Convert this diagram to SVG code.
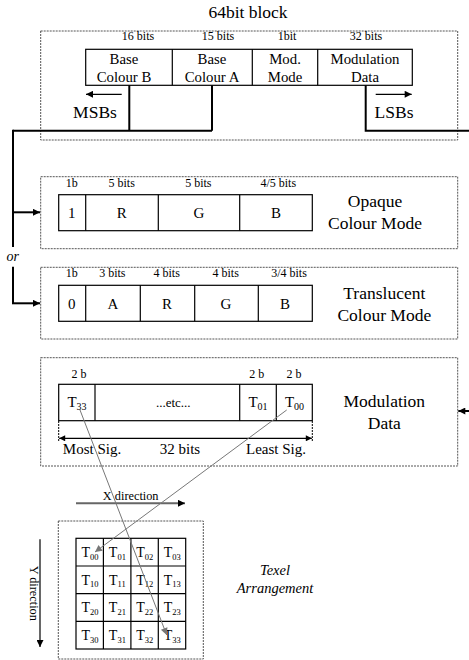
<svg xmlns="http://www.w3.org/2000/svg" width="469" height="660" viewBox="0 0 469 660" font-family="Liberation Serif, DejaVu Serif, serif">
<style>
text{font-family:'Liberation Serif','DejaVu Serif',serif;fill:#000;text-anchor:middle}
.dash{fill:none;stroke:#555;stroke-width:1;stroke-dasharray:2 1}
.fld{fill:#fff;stroke:#000;stroke-width:1.2}
.div{stroke:#000;stroke-width:1.2}
.thick{fill:none;stroke:#000;stroke-width:2}
.bits{font-size:12px}
.f15{font-size:14.8px}
.big{font-size:17.5px}
.let{font-size:15px}
.gray{stroke:#777;stroke-width:1;fill:none}
.it{font-style:italic}
</style>
<defs>
<marker id="ah" viewBox="0 0 10 10" refX="10" refY="5" markerWidth="10" markerHeight="7" markerUnits="userSpaceOnUse" orient="auto">
<path d="M0,0 L10,5 L0,10 Z" fill="#000"/>
</marker>
<marker id="ahs" viewBox="0 0 10 10" refX="10" refY="5" markerWidth="9" markerHeight="6" markerUnits="userSpaceOnUse" orient="auto-start-reverse">
<path d="M0,0 L10,5 L0,10 Z" fill="#000"/>
</marker>
<marker id="ahg" viewBox="0 0 10 10" refX="10" refY="5" markerWidth="10" markerHeight="7" markerUnits="userSpaceOnUse" orient="auto">
<path d="M0,0 L10,5 L0,10 Z" fill="#777"/>
</marker>
</defs>

<text x="248" y="18" class="big">64bit block</text>

<g id="block64">
<rect x="40.7" y="31" width="417" height="109" class="dash"/>
<rect x="85.7" y="49.3" width="326.6" height="36" class="fld"/>
<line x1="172.3" y1="49.3" x2="172.3" y2="85.3" class="div"/>
<line x1="252.3" y1="49.3" x2="252.3" y2="85.3" class="div"/>
<line x1="317.7" y1="49.3" x2="317.7" y2="85.3" class="div"/>
<text x="138" y="40" class="bits">16 bits</text>
<text x="218" y="40" class="bits">15 bits</text>
<text x="287" y="40" class="bits">1bit</text>
<text x="366" y="40" class="bits">32 bits</text>
<text x="124" y="64" class="f15">Base</text>
<text x="124" y="82" class="f15">Colour B</text>
<text x="212" y="64" class="f15">Base</text>
<text x="212" y="82" class="f15">Colour A</text>
<text x="285" y="64" class="f15">Mod.</text>
<text x="285" y="82" class="f15">Mode</text>
<text x="365" y="64" class="f15">Modulation</text>
<text x="365" y="82" class="f15">Data</text>
<line x1="121.7" y1="94.3" x2="86" y2="94.3" stroke="#000" stroke-width="1.2" marker-end="url(#ah)"/>
<text x="95" y="118" class="big">MSBs</text>
<line x1="375.7" y1="94.3" x2="411.7" y2="94.3" stroke="#000" stroke-width="1.2" marker-end="url(#ah)"/>
<text x="394" y="118" class="big">LSBs</text>
</g>

<g id="opaque">
<rect x="40.7" y="176.7" width="417" height="72" class="dash"/>
<rect x="58.7" y="194.7" width="253.6" height="36" class="fld"/>
<line x1="85.7" y1="194.7" x2="85.7" y2="230.7" class="div"/>
<line x1="158.3" y1="194.7" x2="158.3" y2="230.7" class="div"/>
<line x1="239.7" y1="194.7" x2="239.7" y2="230.7" class="div"/>
<text x="71.7" y="187" class="bits">1b</text>
<text x="121.7" y="187" class="bits">5 bits</text>
<text x="198.3" y="187" class="bits">5 bits</text>
<text x="278.3" y="187" class="bits">4/5 bits</text>
<text x="71.7" y="217.5" class="let">1</text>
<text x="121.7" y="217.5" class="let">R</text>
<text x="199" y="217.5" class="let">G</text>
<text x="276" y="217.5" class="let">B</text>
<text x="375" y="207" class="big">Opaque</text>
<text x="375" y="229" class="big">Colour Mode</text>
</g>

<g id="translucent">
<rect x="40.7" y="267.3" width="417" height="71.7" class="dash"/>
<rect x="58.7" y="285.3" width="253.6" height="36" class="fld"/>
<line x1="85.7" y1="285.3" x2="85.7" y2="321.3" class="div"/>
<line x1="140.3" y1="285.3" x2="140.3" y2="321.3" class="div"/>
<line x1="194.7" y1="285.3" x2="194.7" y2="321.3" class="div"/>
<line x1="258.3" y1="285.3" x2="258.3" y2="321.3" class="div"/>
<text x="71.7" y="277" class="bits">1b</text>
<text x="112.3" y="277" class="bits">3 bits</text>
<text x="166.7" y="277" class="bits">4 bits</text>
<text x="225.7" y="277" class="bits">4 bits</text>
<text x="289" y="277" class="bits">3/4 bits</text>
<text x="71.7" y="308.5" class="let">0</text>
<text x="113" y="308.5" class="let">A</text>
<text x="167" y="308.5" class="let">R</text>
<text x="226" y="308.5" class="let">G</text>
<text x="285" y="308.5" class="let">B</text>
<text x="384.3" y="298.5" class="big">Translucent</text>
<text x="384.3" y="320.5" class="big">Colour Mode</text>
</g>

<g id="modulation">
<rect x="40.7" y="357.7" width="417" height="108.3" class="dash"/>
<rect x="58.7" y="384.3" width="253.6" height="36.4" class="fld"/>
<line x1="95" y1="384.3" x2="95" y2="420.7" class="div"/>
<line x1="239.7" y1="384.3" x2="239.7" y2="420.7" class="div"/>
<line x1="276.3" y1="384.3" x2="276.3" y2="420.7" class="div"/>
<text x="79" y="377.5" class="bits">2 b</text>
<text x="256.7" y="377.5" class="bits">2 b</text>
<text x="294" y="377.5" class="bits">2 b</text>
<text x="77" y="407" class="let">T<tspan dy="3" font-size="10">33</tspan></text>
<text x="173.3" y="407" style="font-size:13px">...etc...</text>
<text x="258" y="407" class="let">T<tspan dy="3" font-size="10">01</tspan></text>
<text x="294.5" y="407" class="let">T<tspan dy="3" font-size="10">00</tspan></text>
<line x1="58.7" y1="421" x2="58.7" y2="442" stroke="#000" stroke-width="1" stroke-dasharray="2 1"/>
<line x1="312.3" y1="421" x2="312.3" y2="442" stroke="#000" stroke-width="1" stroke-dasharray="2 1"/>
<line x1="59.2" y1="438.3" x2="311.8" y2="438.3" stroke="#000" stroke-width="1.3" marker-start="url(#ahs)" marker-end="url(#ahs)"/>
<text x="92" y="453.5" class="let">Most Sig.</text>
<text x="180" y="453.5" class="let">32 bits</text>
<text x="276" y="453.5" class="let">Least Sig.</text>
<text x="384.3" y="407" class="big">Modulation</text>
<text x="384.3" y="428.5" class="big">Data</text>
</g>

<g id="texel">
<rect x="58.3" y="521" width="145" height="138" class="dash"/>
<g stroke="#000" stroke-width="1.2" fill="#fff">
<rect x="76" y="538.3" width="109.7" height="110.7"/>
<line x1="103.4" y1="538.3" x2="103.4" y2="649"/>
<line x1="130.9" y1="538.3" x2="130.9" y2="649"/>
<line x1="158.3" y1="538.3" x2="158.3" y2="649"/>
<line x1="76" y1="566" x2="185.7" y2="566"/>
<line x1="76" y1="593.7" x2="185.7" y2="593.7"/>
<line x1="76" y1="621.3" x2="185.7" y2="621.3"/>
</g>
<g style="font-size:14px">
<text x="90" y="557">T<tspan dy="2.5" font-size="8.5">00</tspan></text>
<text x="117.4" y="557">T<tspan dy="2.5" font-size="8.5">01</tspan></text>
<text x="144.8" y="557">T<tspan dy="2.5" font-size="8.5">02</tspan></text>
<text x="172.2" y="557">T<tspan dy="2.5" font-size="8.5">03</tspan></text>
<text x="90" y="584.7">T<tspan dy="2.5" font-size="8.5">10</tspan></text>
<text x="117.4" y="584.7">T<tspan dy="2.5" font-size="8.5">11</tspan></text>
<text x="144.8" y="584.7">T<tspan dy="2.5" font-size="8.5">12</tspan></text>
<text x="172.2" y="584.7">T<tspan dy="2.5" font-size="8.5">13</tspan></text>
<text x="90" y="612.4">T<tspan dy="2.5" font-size="8.5">20</tspan></text>
<text x="117.4" y="612.4">T<tspan dy="2.5" font-size="8.5">21</tspan></text>
<text x="144.8" y="612.4">T<tspan dy="2.5" font-size="8.5">22</tspan></text>
<text x="172.2" y="612.4">T<tspan dy="2.5" font-size="8.5">23</tspan></text>
<text x="90" y="640">T<tspan dy="2.5" font-size="8.5">30</tspan></text>
<text x="117.4" y="640">T<tspan dy="2.5" font-size="8.5">31</tspan></text>
<text x="144.8" y="640">T<tspan dy="2.5" font-size="8.5">32</tspan></text>
<text x="172.2" y="640">T<tspan dy="2.5" font-size="8.5">33</tspan></text>
</g>
<text x="275" y="575" class="it" style="font-size:14.5px">Texel</text>
<text x="275" y="593" class="it" style="font-size:14.5px">Arrangement</text>
<text x="130.7" y="499.5" style="font-size:12.3px">X direction</text>
<line x1="76" y1="503.3" x2="185" y2="503.3" stroke="#666" stroke-width="2" marker-end="url(#ah)"/>
<line x1="40" y1="539.3" x2="40" y2="647" stroke="#000" stroke-width="1.2" marker-end="url(#ah)"/>
<text transform="translate(30,593.3) rotate(90)" style="font-size:12.3px">Y direction</text>
</g>

<g id="connectors">
<path d="M129.3,85.3 V130.7 M212,85.3 V130.7 M13,130.7 H212" class="thick"/>
<path d="M365.7,85.3 V130.7 H469" class="thick"/>
<path d="M13,129.7 V247" class="thick"/>
<path d="M13,266.7 V303.3" class="thick"/>
<line x1="13" y1="212.3" x2="40" y2="212.3" stroke="#000" stroke-width="2" marker-end="url(#ah)"/>
<line x1="12" y1="303.3" x2="40" y2="303.3" stroke="#000" stroke-width="2" marker-end="url(#ah)"/>
<text x="12.7" y="261" class="it" style="font-size:14px">or</text>
<line x1="469" y1="411" x2="458.3" y2="411" stroke="#000" stroke-width="2" marker-end="url(#ah)"/>
<line x1="80" y1="410" x2="166.7" y2="635" class="gray" marker-end="url(#ahg)"/>
<line x1="286.7" y1="410" x2="95" y2="552" class="gray" marker-end="url(#ahg)"/>
</g>
</svg>
